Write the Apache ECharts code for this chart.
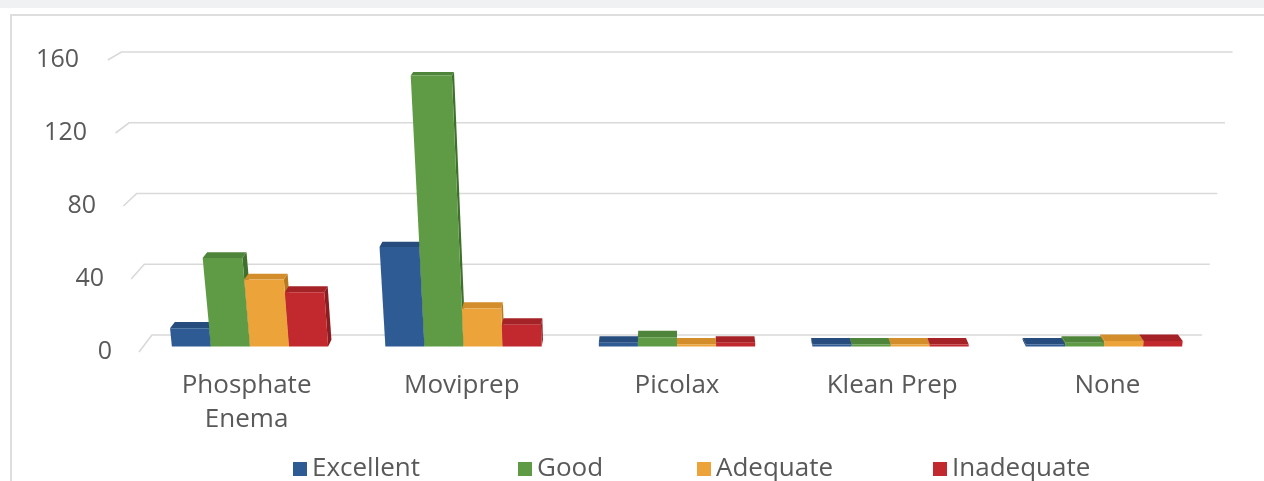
<!DOCTYPE html>
<html>
<head>
<meta charset="utf-8">
<script src="https://cdn.jsdelivr.net/npm/echarts@6/dist/echarts.min.js"></script>
<style>
html,body{margin:0;padding:0;background:#fff;}
#chart{width:1264px;height:481px;}
</style>
</head>
<body>
<div id="chart"></div>
<script>
const categories = ['Phosphate\nEnema', 'Moviprep', 'Picolax', 'Klean Prep', 'None'];
const seriesNames = ['Excellent', 'Good', 'Adequate', 'Inadequate'];
const excellent = [10, 55, 2, 1, 1];
const good = [49, 150, 5, 1, 2];
const adequate = [37, 21, 1, 1, 3];
const inadequate = [30, 12, 2, 1, 3];
const yTicks = [0, 40, 80, 120, 160];

const faceColors = [
  { front: '#2f5b95', top: '#274c7e', side: '#1f3e68' },
  { front: '#5f9b45', top: '#4f853a', side: '#40702e' },
  { front: '#eca33a', top: '#d38d2a', side: '#b9791f' },
  { front: '#c1292e', top: '#a52227', side: '#8b1c20' }
];
const seriesValues = [excellent, good, adequate, inadequate];

// perspective helpers (pseudo-3D like the original)
const DEPTH_DY = 17, SHRINK = 0.031, KEY = 0.058, NARROW = 0.024;
function makeProj(api) {
  const base = api.coord([2, 0]);
  const top = api.coord([2, 160]);
  const CX = base[0], Y0 = base[1], FH = Y0 - top[1];
  return {
    CX: CX,
    p: function (ux, h, t) {
      const k = 1 + KEY * h / FH;
      const m = 1 - NARROW * t;
      return [CX + (ux - CX) * k * m, Y0 - DEPTH_DY * t - h * (1 - SHRINK * t)];
    }
  };
}

function wallItem(params, api) {
  const pr = makeProj(api);
  const band = api.size([1, 0])[0];
  const c = api.coord([0, api.value(1)]);
  const b = api.coord([0, 0]);
  const h = b[1] - c[1];
  const left = api.coord([0, 0])[0] - band / 2;
  const right = api.coord([4, 0])[0] + band / 2;
  return {
    type: 'polyline',
    shape: { points: [pr.p(left, h, 0), pr.p(left, h, 1), pr.p(right, h, 1)] },
    style: { stroke: '#d9d9d9', lineWidth: 1.6, fill: null },
    silent: true
  };
}

function barItem(sIdx) {
  return function (params, api) {
    const pr = makeProj(api);
    const ci = api.value(0), v = api.value(1);
    const c = api.coord([ci, v]);
    const b = api.coord([ci, 0]);
    const band = api.size([1, 0])[0];
    const bw = band * 0.183;
    const ux0 = b[0] + (sIdx - 2) * bw;
    const ux1 = ux0 + bw;
    const h = b[1] - c[1];
    const t0 = 0.33, t1 = 0.72;
    const col = faceColors[sIdx];
    const zb = (1000 - Math.round(Math.abs((ux0 + ux1) / 2 - pr.CX))) * 3;
    const children = [];
    if (ux1 < pr.CX) {
      children.push({ type: 'polygon', z2: zb, shape: { points: [pr.p(ux1, 0, t0), pr.p(ux1, 0, t1), pr.p(ux1, h, t1), pr.p(ux1, h, t0)] }, style: { fill: col.side } });
    } else if (ux0 > pr.CX) {
      children.push({ type: 'polygon', z2: zb, shape: { points: [pr.p(ux0, 0, t0), pr.p(ux0, 0, t1), pr.p(ux0, h, t1), pr.p(ux0, h, t0)] }, style: { fill: col.side } });
    }
    children.push({ type: 'polygon', z2: zb + 1, shape: { points: [pr.p(ux0, h, t0), pr.p(ux1, h, t0), pr.p(ux1, h, t1), pr.p(ux0, h, t1)] }, style: { fill: col.top } });
    children.push({ type: 'polygon', z2: zb + 2, shape: { points: [pr.p(ux0, 0, t0), pr.p(ux1, 0, t0), pr.p(ux1, h, t0), pr.p(ux0, h, t0)] }, style: { fill: col.front } });
    return { type: 'group', children: children };
  };
}

const labelPad = { 0: 0, 40: 8, 80: 16, 120: 25, 160: 33 };
const rich = {};
yTicks.forEach(function (t) {
  rich['p' + t] = { fontFamily: 'Open Sans', fontSize: 25, color: '#595959', padding: [0, labelPad[t], 0, 0] };
});

const chart = echarts.init(document.getElementById('chart'), null, { renderer: 'canvas' });
const series = [{
  type: 'custom',
  name: 'wall',
  z: 1,
  silent: true,
  renderItem: wallItem,
  data: yTicks.map(function (v) { return [0, v]; })
}];
seriesNames.forEach(function (n, i) {
  series.push({
    type: 'custom',
    name: n,
    z: 2,
    itemStyle: { color: faceColors[i].front },
    renderItem: barItem(i),
    data: seriesValues[i].map(function (v, ci) { return [ci, v]; })
  });
});

const legendLefts = [288, 513, 692, 928];
chart.setOption({
  animation: false,
  backgroundColor: '#ffffff',
  graphic: [
    { type: 'rect', left: 0, top: 0, shape: { width: 1264, height: 8 }, style: { fill: '#f0f1f3' }, silent: true },
    { type: 'polyline', shape: { points: [[11, 481], [11, 15], [1264, 15]] }, style: { stroke: '#dedede', lineWidth: 2, fill: null }, silent: true }
  ],
  grid: { left: 139, width: 1076, top: 60, height: 292 },
  legend: seriesNames.map(function (n, i) {
    return {
      data: [n],
      left: legendLefts[i],
      top: 450,
      icon: 'rect',
      itemWidth: 14,
      itemHeight: 14,
      itemGap: 8,
      selectedMode: false,
      textStyle: { fontFamily: 'Open Sans', fontSize: 26, color: '#595959', lineHeight: 28 }
    };
  }),
  xAxis: {
    type: 'category',
    data: categories,
    axisLine: { show: false },
    axisTick: { show: false },
    axisLabel: { fontFamily: 'Open Sans', fontSize: 26, color: '#595959', lineHeight: 34, margin: 17, interval: 0 }
  },
  yAxis: {
    type: 'value',
    min: 0,
    max: 160,
    interval: 40,
    axisLine: { show: false },
    axisTick: { show: false },
    splitLine: { show: false },
    axisLabel: {
      margin: 27,
      formatter: function (v) { return '{p' + v + '|' + v + '}'; },
      rich: rich
    }
  },
  series: series
});
</script>
</body>
</html>
